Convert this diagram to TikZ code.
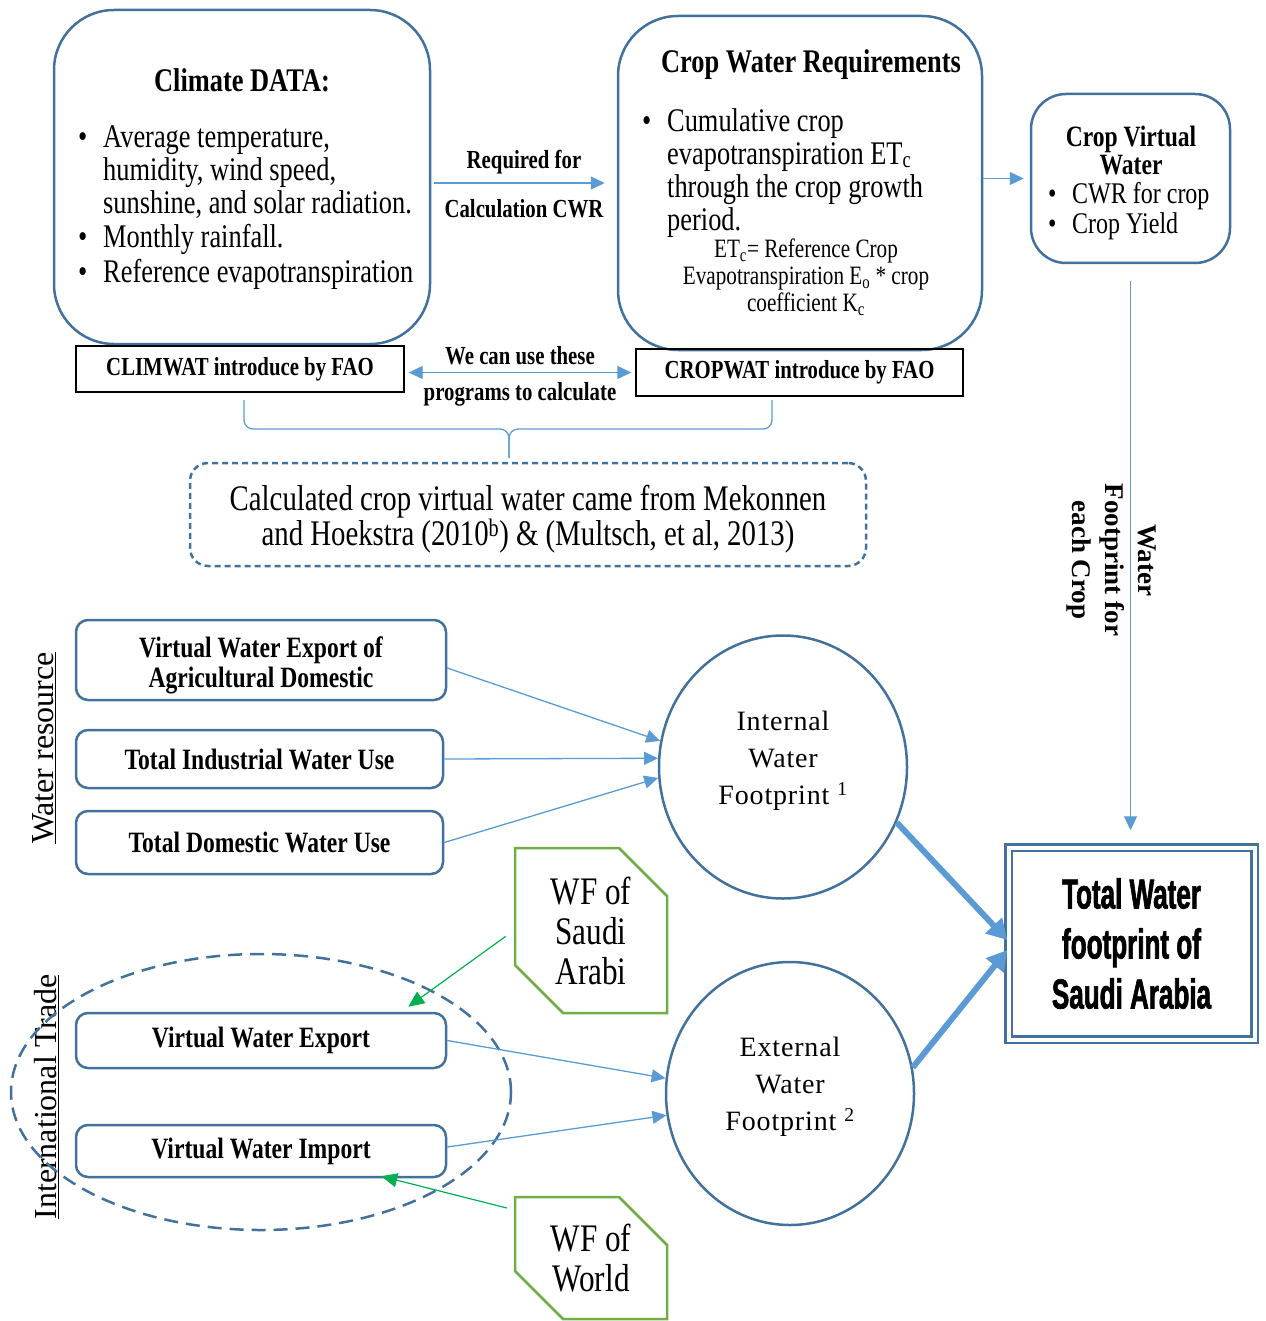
\documentclass[tikz,border=0pt]{standalone}
\usepackage{fontspec}
\setmainfont{Liberation Serif}[FakeStretch=0.8]
\newfontfamily\wideserif{Liberation Serif}
\newfontfamily\fpfont{Liberation Serif}[LetterSpace=3]
\newfontfamily\agencyfont{Liberation Sans}[FakeStretch=0.62,FakeBold=1.5]
\usetikzlibrary{arrows.meta,positioning,shapes.geometric,shapes.misc}

\definecolor{steel}{RGB}{65,113,156}
\definecolor{flowblue}{RGB}{91,155,213}
\definecolor{wfgreen}{RGB}{112,173,71}
\definecolor{arrowgreen}{RGB}{0,176,80}

\newcommand{\bitem}[2][25pt]{\par\noindent\makebox[#1][l]{\textbullet}%
  \begin{minipage}[t]{\dimexpr\hsize-#1\relax}\raggedright#2\end{minipage}\par}

\begin{document}
\begin{tikzpicture}[x=1pt,y=-1pt,
    bigbox/.style={draw=steel, line width=2.5pt, rounded corners=60pt, inner sep=0pt},
    titletext/.style={inner sep=0pt, align=center, font=\bfseries\fontsize{33}{28}\selectfont},
    bulletlist/.style={anchor=north west, align=flush left, inner sep=0pt, font=\fontsize{33}{33}\selectfont},
    formula/.style={inner sep=0pt, align=center, font=\fontsize{26.5}{27}\selectfont},
    progbox/.style={draw=black, line width=1.3pt, inner sep=0pt, font=\bfseries\fontsize{26}{27}\selectfont},
    lbl/.style={inner sep=0pt, font=\bfseries\fontsize{26}{27}\selectfont},
    notebox/.style={draw=steel, dashed, dash pattern=on 6pt off 4pt, line width=2.5pt, rounded corners=18pt, inner sep=0pt, align=center, text height=70pt, font=\fontsize{36}{35}\selectfont},
    srcbox/.style={draw=steel, line width=2.5pt, rounded corners=12pt, inner sep=0pt, align=center, font=\bfseries\fontsize{29.5}{30}\selectfont},
    sidelabel/.style={rotate=90, inner sep=0pt, font=\wideserif\fontsize{32}{34}\selectfont},
    fpcirc/.style={ellipse, draw=steel, line width=2.5pt, minimum width=248pt, minimum height=263pt, inner sep=0pt, align=center, text depth=19pt, font=\fpfont\fontsize{28}{37}\selectfont},
    totalbox/.style={draw=steel, double=white, double distance=4pt, line width=2.5pt, minimum width=246pt, minimum height=192pt, inner sep=0pt, align=center, font=\agencyfont\bfseries\fontsize{42}{50}\selectfont},
    wfbox/.style={chamfered rectangle, chamfered rectangle corners={north east, south west}, chamfered rectangle xsep=24pt, chamfered rectangle ysep=24pt, draw=wfgreen, line width=2.5pt, inner sep=0pt, align=center, font=\fontsize{39}{40}\selectfont},
    wflabel/.style={rotate=-90, inner sep=0pt, align=center, font=\wideserif\bfseries\fontsize{27}{33}\selectfont},
    flow/.style={draw=flowblue, line width=1.3pt, -{Triangle[length=14pt,width=13pt]}},
    bigflow/.style={draw=flowblue, line width=6pt, -{Triangle[length=20pt,width=22pt]}},
    greenflow/.style={draw=arrowgreen, line width=1.2pt, -{Triangle[length=16pt,width=14pt]}},
    bracestyle/.style={draw=flowblue, line width=1.3pt, rounded corners=9pt}
]
\useasboundingbox (0,0) rectangle (1265,1321);

\node[bigbox, minimum width=376pt, minimum height=334pt] (climate) at (242,177) {};
\node[titletext] (climtitle) at (242,80) {Climate DATA:};
\node[bulletlist, text width=340pt] (climlist) at (78,114) {\bitem{Average temperature,\\humidity, wind speed,\\sunshine, and solar radiation.}\vspace{5pt}\bitem{Monthly rainfall.}\vspace{2pt}\bitem{Reference evapotranspiration}};

\node[bigbox, minimum width=364pt, minimum height=334pt] (cwr) at (800,183) {};
\node[titletext] (cwrtitle) at (811,65) {Crop Water Requirements};
\node[bulletlist, text width=320pt] (cwrlist) at (642,98) {\bitem{Cumulative crop\\evapotranspiration ET\textsubscript{c}\\through the crop growth\\period.}};
\node[formula] (etc) at (806,277) {ET\textsubscript{c}= Reference Crop\\Evapotranspiration E\textsubscript{o} * crop\\coefficient K\textsubscript{c}};

\node[bigbox, rounded corners=35pt, minimum width=199pt, minimum height=169pt] (cvw) at (1130.5,178.5) {};
\node[titletext, font=\bfseries\fontsize{29.5}{28}\selectfont] (cvwtitle) at (1131,150) {Crop Virtual\\Water};
\node[bulletlist, font=\fontsize{30}{30}\selectfont, text width=170pt] (cvwlist) at (1048,173) {\bitem[24pt]{CWR for crop}\bitem[24pt]{Crop Yield}};

\node[progbox, minimum width=328pt, minimum height=46pt] (climwat) at (240,369) {CLIMWAT introduce by FAO};
\node[progbox, minimum width=327pt, minimum height=47pt] (cropwat) at (799.5,372.5) {CROPWAT introduce by FAO};

\draw[flow, shorten <=3pt, shorten >=12pt] (climate.east |- cwr.west) -- node[lbl, above=8pt] (reqlbl) {Required for} node[lbl, below=16pt] (calclbl) {Calculation CWR} (cwr.west);
\draw[flow, shorten >=6pt] (cwr.east |- cvw.west) -- (cvw.west);
\draw[flow, {Triangle[length=14pt,width=13pt]}-{Triangle[length=14pt,width=13pt]}, shorten <=4pt, shorten >=4pt] (climwat.east |- cropwat.west) -- node[lbl, above=7pt] (uselbl) {We can use these} node[lbl, below=9pt] (proglbl) {programs to calculate} (cropwat.west);

\coordinate (bracel) at (244,400);
\coordinate (bracer) at (772,400);
\coordinate (bracemid) at (509,429);
\coordinate (bracetip) at (509,458);
\draw[bracestyle] (bracel) |- (bracemid) -- (bracetip);
\draw[bracestyle] (bracer) |- (bracemid) -- (bracetip);

\node[notebox, minimum width=676pt, minimum height=103pt] (note) at (528,514.5) {Calculated crop virtual water came from Mekonnen\\and Hoekstra (2010\textsuperscript{b}) \& (Multsch, et al, 2013)};

\node[srcbox, minimum width=370pt, minimum height=80pt, text height=62pt] (vwagr) at (261,660) {Virtual Water Export of\\Agricultural Domestic};
\node[srcbox, minimum width=367pt, minimum height=58pt] (indus) at (259.5,759) {Total Industrial Water Use};
\node[srcbox, minimum width=367pt, minimum height=63pt] (domes) at (259.5,842.5) {Total Domestic Water Use};
\node[srcbox, minimum width=370pt, minimum height=55pt] (vwexp) at (261,1040.5) {Virtual Water Export};
\node[srcbox, minimum width=370pt, minimum height=52pt] (vwimp) at (261,1151) {Virtual Water Import};

\node[sidelabel] (wres) at (44,748) {\underline{Water resource}};
\node[sidelabel] (itrade) at (47,1097) {\underline{International Trade}};
\draw[steel, line width=2.5pt, dashed, dash pattern=on 14pt off 8pt] (261,1092) ellipse [x radius=250pt, y radius=138pt];

\node[fpcirc] (intfp) at (783,767) {Internal\\Water\\Footprint \textsuperscript{1}};
\node[fpcirc] (extfp) at (790,1093.5) {External\\Water\\Footprint \textsuperscript{2}};

\node[totalbox] (totalfp) at (1131.5,943.5) {Total Water\\footprint of\\Saudi Arabia};

\node[wfbox, minimum width=152pt, minimum height=165pt] (wfsa) at (591,930.5) {WF of\\Saudi\\Arabi};
\node[wfbox, minimum width=152pt, minimum height=122pt] (wfworld) at (591,1258) {WF of\\World};

\draw[flow] ([yshift=-8pt]vwagr.east) -- (intfp.168);
\draw[flow] (indus.east) -- (intfp.176);
\draw[flow] (domes.east) -- (intfp.185);
\draw[flow] (vwexp.east) -- (extfp.173);
\draw[flow] ([yshift=4pt]vwimp.east) -- (extfp.190);
\draw[bigflow] (intfp.-26) -- ([yshift=3.5pt]totalfp.west);
\draw[bigflow] (extfp.12) -- ([yshift=-6.5pt]totalfp.west);

\draw[flow, shorten <=17pt, shorten >=16pt] (cvw.south) -- (cvw.south |- totalfp.north);
\node[wflabel] (wfcrop) at (1111,560) {Water\\Footprint for\\each Crop};

\draw[greenflow, shorten <=10pt] (wfsa.west) -- ([xshift=-39pt,yshift=5pt]vwexp.north east);
\draw[greenflow, shorten <=7pt] ([yshift=-14pt]wfworld.north west) -- ([xshift=-66pt,yshift=2pt]vwimp.south east);
\end{tikzpicture}
\end{document}
